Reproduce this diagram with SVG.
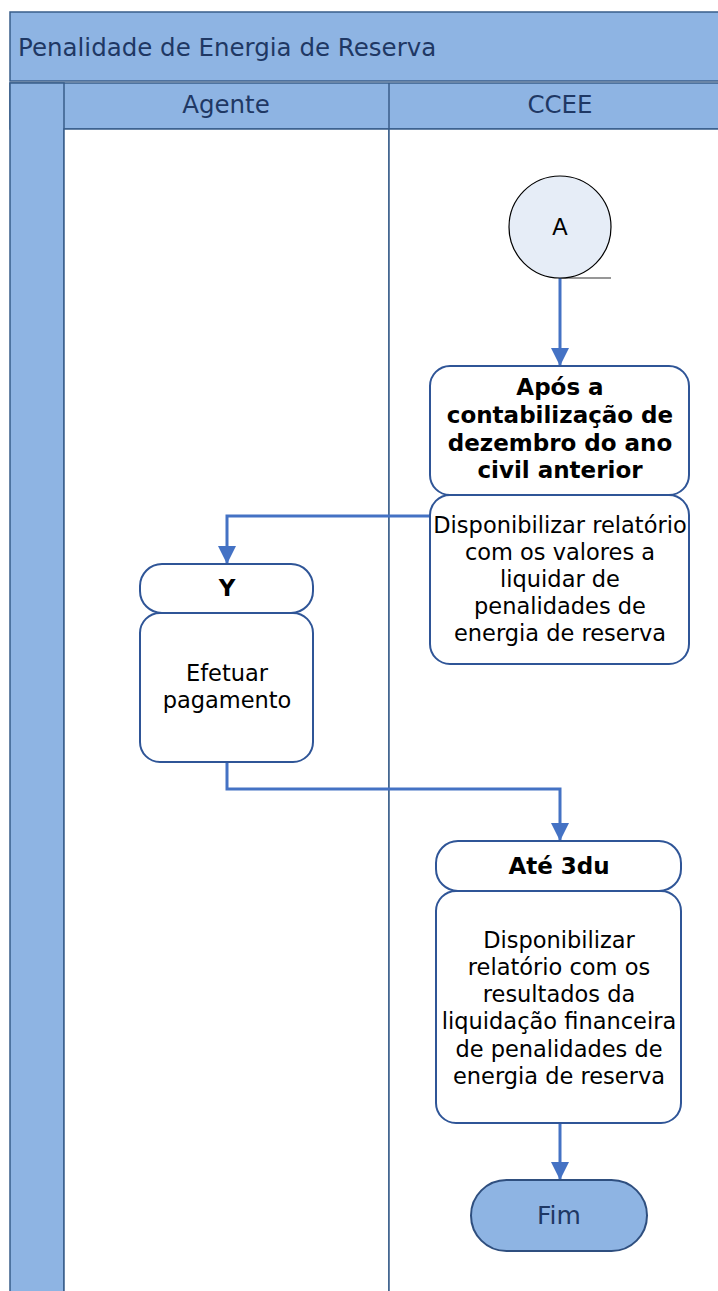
<svg xmlns="http://www.w3.org/2000/svg" width="718" height="1291" viewBox="0 0 718 1291">
<style>
.band{fill:#8eb4e3;stroke:#385d8a;stroke-width:1.5}
.lane{fill:#ffffff;stroke:#385d8a;stroke-width:1.5}
.box{fill:#ffffff;stroke:#2f5597;stroke-width:2}
.t{font-family:"DejaVu Sans",Verdana,sans-serif;font-size:22.5px;fill:#000;text-anchor:middle}
.b{font-weight:bold;font-size:23px}
.h{font-family:"DejaVu Sans",Verdana,sans-serif;font-size:24.5px;fill:#1f3864}
.conn{fill:none;stroke:#4472c4;stroke-width:3}
</style>
<defs>
<marker id="arr" viewBox="0 0 10 10" refX="10" refY="5" markerWidth="6" markerHeight="6" orient="auto" markerUnits="strokeWidth">
<path d="M0,0 L10,5 L0,10 z" fill="#4472c4"/>
</marker>
</defs>
<g id="pool">
<rect class="band" x="10" y="12" width="712" height="69"/>
<rect class="band" x="10" y="83" width="712" height="46"/>
<rect class="band" x="10" y="83" width="54" height="1212"/>
<rect class="lane" x="64" y="129" width="325" height="1166"/>
<rect class="lane" x="389" y="129" width="333" height="1166"/>
<line x1="389" y1="83" x2="389" y2="129" stroke="#385d8a" stroke-width="1.5"/>
<text class="h" x="18" y="56">Penalidade de Energia de Reserva</text>
<text class="h" x="226" y="113" text-anchor="middle">Agente</text>
<text class="h" x="560" y="113" text-anchor="middle">CCEE</text>
</g>
<g id="connectors">
<line x1="560" y1="278" x2="611" y2="278" stroke="#303030" stroke-width="1.2"/>
<path class="conn" d="M560,278 V366" marker-end="url(#arr)"/>
<path class="conn" d="M430,516 H227 V564" marker-end="url(#arr)"/>
<path class="conn" d="M227,762 V789 H560 V841" marker-end="url(#arr)"/>
<path class="conn" d="M560,1123 V1180" marker-end="url(#arr)"/>
</g>
<g id="nodeA">
<circle cx="560" cy="227" r="51" fill="#e6edf7" stroke="#000" stroke-width="1.2"/>
<text x="560" y="235" text-anchor="middle" style="font-family:'Liberation Sans',Arial,sans-serif;font-size:23px;fill:#000">A</text>
</g>
<g id="node1">
<rect class="box" x="430" y="366" width="259" height="129" rx="20"/>
<rect class="box" x="430" y="495" width="259" height="169" rx="20"/>
<text class="t b" x="560" y="395">Após a</text>
<text class="t b" x="560" y="423">contabilização de</text>
<text class="t b" x="560" y="451">dezembro do ano</text>
<text class="t b" x="560" y="478">civil anterior</text>
<text class="t" x="560" y="533">Disponibilizar relatório</text>
<text class="t" x="560" y="560">com os valores a</text>
<text class="t" x="560" y="587">liquidar de</text>
<text class="t" x="560" y="614">penalidades de</text>
<text class="t" x="560" y="641">energia de reserva</text>
</g>
<g id="nodeY">
<rect class="box" x="140" y="564" width="173" height="49" rx="22"/>
<rect class="box" x="140" y="613" width="173" height="149" rx="20"/>
<text class="t b" x="227" y="596">Y</text>
<text class="t" x="227" y="681">Efetuar</text>
<text class="t" x="227" y="708">pagamento</text>
</g>
<g id="node3">
<rect class="box" x="436" y="841" width="245" height="50" rx="22"/>
<rect class="box" x="436" y="891" width="245" height="232" rx="20"/>
<text class="t b" x="559" y="874">Até 3du</text>
<text class="t" x="559" y="948">Disponibilizar</text>
<text class="t" x="559" y="975">relatório com os</text>
<text class="t" x="559" y="1002">resultados da</text>
<text class="t" x="559" y="1029">liquidação financeira</text>
<text class="t" x="559" y="1057">de penalidades de</text>
<text class="t" x="559" y="1084">energia de reserva</text>
</g>
<g id="fim">
<rect x="471" y="1180" width="176" height="71" rx="35.5" fill="#8eb4e3" stroke="#2f4f7f" stroke-width="2"/>
<text x="559" y="1224" text-anchor="middle" style="font-family:'DejaVu Sans',Verdana,sans-serif;font-size:25px;fill:#1f3864">Fim</text>
</g>
</svg>
